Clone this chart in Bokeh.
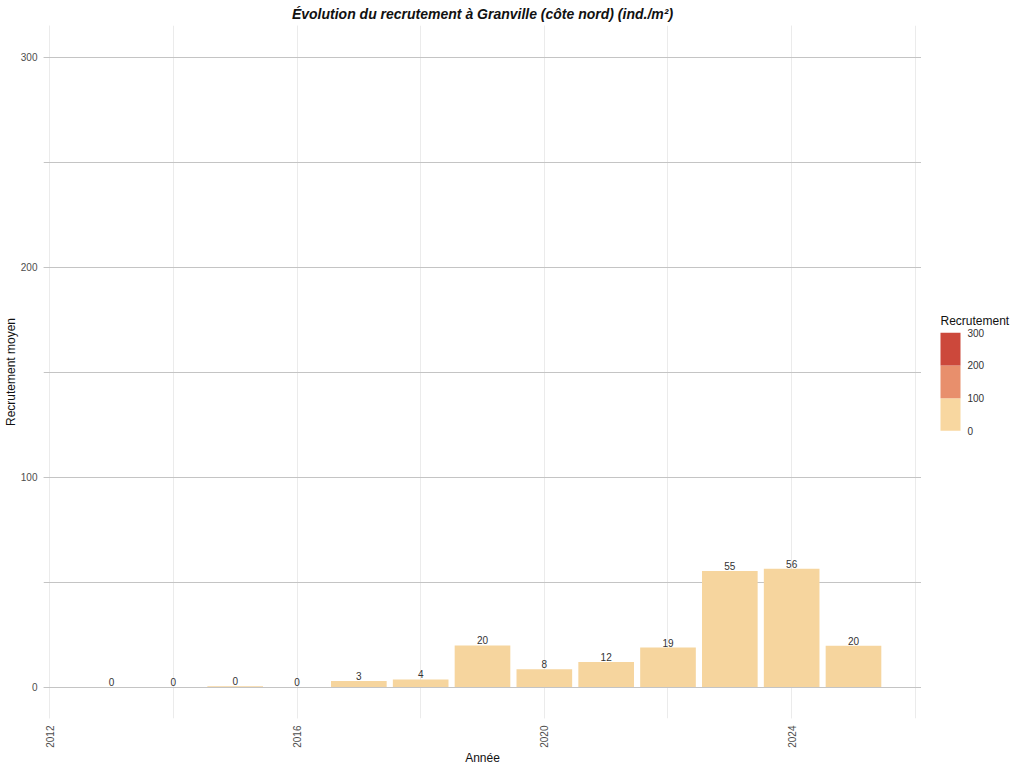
import math
from bokeh.plotting import figure
from bokeh.layouts import row
from bokeh.models import (ColumnDataSource, Range1d, SingleIntervalTicker)
from bokeh.core.properties import value
from bokeh.embed import file_html
from bokeh.resources import INLINE

# ---- data ----
years = [2013, 2014, 2015, 2016, 2017, 2018, 2019, 2020, 2021, 2022, 2023, 2024, 2025]
recrutement = [0.0, 0.0, 0.3, 0.0, 2.9, 3.6, 19.8, 8.5, 11.9, 18.8, 55.2, 56.3, 19.7]
labels = [str(int(round(v))) for v in recrutement]
legend_ticks = [0, 100, 200, 300]
legend_palette = ["#f8d7a0", "#e88f6c", "#cc483b"]
legend_title = "Recrutement"

FONT = "Liberation Sans"

src = ColumnDataSource(dict(x=years, top=recrutement, lab=labels))

p = figure(width=914, height=752, output_backend="svg", toolbar_location=None,
           x_range=Range1d(2011.9, 2026.1), y_range=Range1d(-15, 315),
           frame_width=878, frame_height=693,
           min_border_left=20, min_border_right=0, min_border_top=4, min_border_bottom=4)

p.title.text = "Évolution du recrutement à Granville (côte nord) (ind./m²)"
p.title.align = "center"
p.title.text_font = FONT
p.title.text_font_size = "14px"
p.title.text_font_style = "bold italic"
p.title.text_color = "#111111"
p.title.standoff = 7

p.vbar(x="x", top="top", bottom=0, width=0.9, source=src,
       fill_color="#f6d59e", line_color=None)
p.text(x="x", y="top", text="lab", source=src, text_align="center",
       text_baseline="bottom", y_offset=-1, text_font=value(FONT),
       text_font_size="10px", text_color="#333333")

# axes
p.outline_line_color = None
p.background_fill_color = "white"
p.border_fill_color = "white"

p.xaxis.ticker = SingleIntervalTicker(interval=4, num_minor_ticks=2)
p.yaxis.ticker = SingleIntervalTicker(interval=100, num_minor_ticks=2)
for ax in (p.xaxis[0], p.yaxis[0]):
    ax.axis_line_color = None
    ax.major_tick_line_color = None
    ax.minor_tick_line_color = None
    ax.major_label_text_font = FONT
    ax.major_label_text_font_size = "10px"
    ax.major_label_text_color = "#4d4d4d"
    ax.axis_label_text_font = FONT
    ax.axis_label_text_font_size = "12px"
    ax.axis_label_text_font_style = "normal"
    ax.axis_label_text_color = "#111111"
p.xaxis.major_label_orientation = math.pi / 2
p.xaxis.axis_label = "Année"
p.yaxis.axis_label = "Recrutement moyen"
p.xaxis.major_label_standoff = 1
p.yaxis.major_label_standoff = 0
p.xaxis.axis_label_standoff = 0
p.yaxis.axis_label_standoff = 0

p.xgrid.grid_line_color = "#ebebeb"
p.xgrid.minor_grid_line_color = "#ebebeb"
p.ygrid.grid_line_color = "#c4c4c4"
p.ygrid.minor_grid_line_color = "#c4c4c4"

# ---- legend panel (stepped colour bar), its own small figure ----
lg = figure(width=94, height=752, output_backend="svg", toolbar_location=None,
            x_range=Range1d(0, 94), y_range=Range1d(-833, 1238.6),
            min_border=0)
lg.axis.visible = False
lg.grid.visible = False
lg.outline_line_color = None
lg.background_fill_color = "white"
lg.border_fill_color = "white"

lg.quad(left=19, right=39, bottom=legend_ticks[:-1], top=legend_ticks[1:],
        fill_color=legend_palette, line_color=None)
lg.text(x=46, y=legend_ticks, text=[str(t) for t in legend_ticks],
        text_baseline="middle", text_align="left", text_font=value(FONT),
        text_font_size="10px", text_color="#333333")
lg.text(x=19, y=[legend_ticks[-1] + 36], text=[legend_title],
        text_baseline="middle", text_align="left", text_font=value(FONT),
        text_font_size="12px", text_color="#111111")

layout = row(p, lg, spacing=0)
open("out.html", "w").write(file_html(layout, INLINE))
